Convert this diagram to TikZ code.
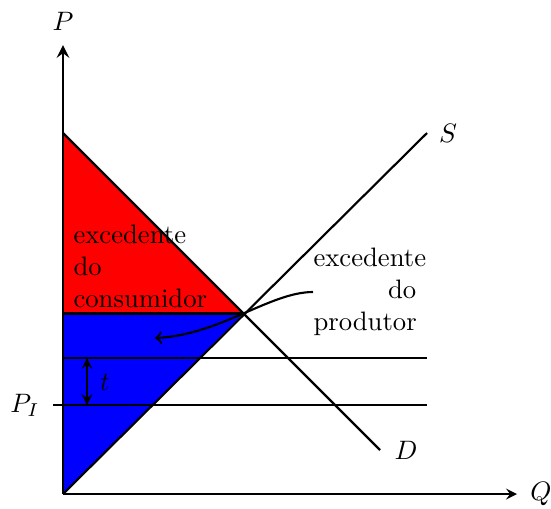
\documentclass[tikz,border=0pt]{standalone}
\usetikzlibrary{arrows}
\hbadness=10000
\hfuzz=100pt
\begin{document}
\begin{tikzpicture}[x=0.375pt,y=-0.375pt,
  ln/.style={thick},
  lbl/.style={inner sep=0pt}]
\useasboundingbox (0,0) rectangle (551,508);
% areas
\fill[red] (63,133) -- (63,313.5) -- (243.5,313.5) -- cycle;
\fill[blue] (63,313.5) -- (243.5,313.5) -- (63,494) -- cycle;
% coordinates
\coordinate (O) at (63,494);
\coordinate (Ptop) at (63,45);
\coordinate (Qend) at (517,494);
\coordinate (Dstart) at (63,133);
\coordinate (Dend) at (380,450);
\coordinate (Send) at (427,133);
\coordinate (E) at (243.5,313.5);
\coordinate (h1a) at (63,358);
\coordinate (h1b) at (427,358);
\coordinate (h2a) at (53,405);
\coordinate (h2b) at (427,405);
\coordinate (ta) at (87,358);
\coordinate (tb) at (87,405);
% lines
\draw[ln] (63,313.5) -- (E);
\draw[ln] (h1a) -- (h1b);
\draw[thin] (h2a) -- (63,405);
\draw[ln] (63,405) -- (h2b);
\draw[ln] (Dstart) -- (Dend);
\draw[ln] (O) -- (Send);
\draw[ln,<->,>=stealth] (ta) -- (tb);
\draw[ln,->,>=stealth,line width=1.1pt] (O) -- (Ptop);
\draw[ln,->,>=stealth] (O) -- (Qend);
% labels
\node[lbl] (P) at (63,21) {$P$};
\node[lbl] (Q) at (541,494) {$Q$};
\node[lbl] (S) at (448,133) {$S$};
\node[lbl] (D) at (406,450) {$D$};
\node[lbl] (PI) at (25,405) {$P_I$};
\node[lbl] (t) at (105,382) {$t$};
\node[lbl,anchor=west,align=left] (cons) at (73,266) {excedente\\do\\consumidor};
\node[lbl,anchor=west,text width=38.5pt,align=right] (prod) at (313,292) {excedente\\do\\produtor};
\coordinate (arrs) at (313,292);
\coordinate (arre) at (155,338);
\draw[ln,->,>=to] (arrs) .. controls (270,292) and (220,335) .. (arre);
\end{tikzpicture}
\end{document}
